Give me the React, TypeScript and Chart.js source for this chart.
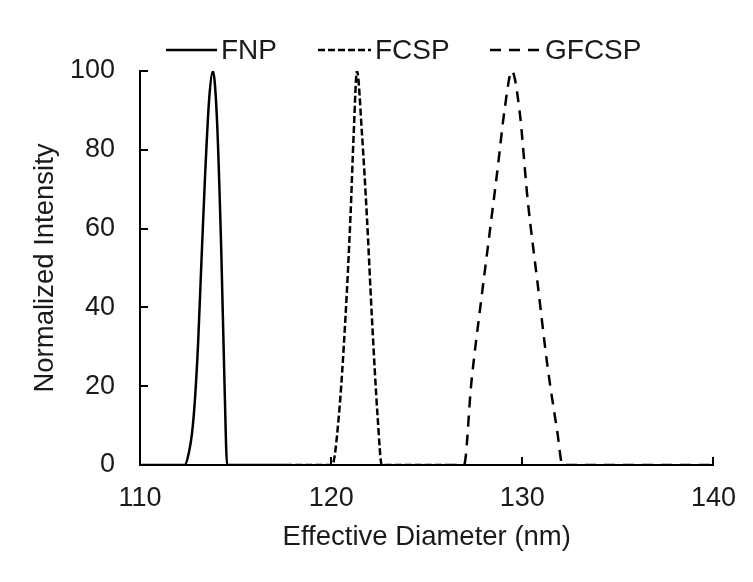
import React, { useEffect, useRef } from "react";
import { Chart, registerables } from "chart.js";

Chart.register(...registerables);

// Effective diameter (nm) and normalized intensity for each sample
const fnpX = [110, 112.34, 112.55, 112.72, 112.88, 113.04, 113.2, 113.4, 113.62, 113.81, 114.02, 114.25, 114.42, 114.56, 117.6];
const fnpY = [0, 0, 3, 8, 17, 31, 50, 73, 93, 100, 88.4, 54.6, 20.8, 0, 0];

const fcspX = [117.6, 120.05, 120.4, 120.75, 121.01, 121.18, 121.35, 121.61, 121.87, 122.13, 122.43, 122.65, 126];
const fcspY = [0, 0, 12.3, 37.6, 63, 84.2, 100, 84.2, 63, 37.6, 12.3, 0, 0];

const gfcspX = [126, 126.95, 127.33, 127.85, 128.29, 128.72, 129.07, 129.45, 129.85, 130.28, 130.8, 131.32, 131.84, 132.1, 140];
const gfcspY = [0, 0, 20.7, 41.9, 58.9, 75.7, 90.1, 100, 90.1, 67.3, 46.1, 25, 8.1, 0, 0];

const seriesNames = ["FNP", "FCSP", "GFCSP"];
const xTickValues = [110, 120, 130, 140];
const yTickValues = [0, 20, 40, 60, 80, 100];

const FONT = "'Liberation Sans', Arial, sans-serif";
const TEXT_COLOR = "#1a1a1a";

const toPoints = (xs: number[], ys: number[]) => xs.map((x, i) => ({ x, y: ys[i] }));

const legendLayout = [
  { x1: 166, x2: 217 },
  { x1: 318, x2: 371 },
  { x1: 490, x2: 541 },
];

const insideTicksPlugin = {
  id: "insideTicks",
  afterDatasetsDraw(chart: any) {
    const { ctx, chartArea, scales } = chart;
    ctx.save();
    ctx.strokeStyle = "#000";
    ctx.lineWidth = 2;
    yTickValues.forEach((v) => {
      const y = Math.round(scales.y.getPixelForValue(v));
      ctx.beginPath();
      ctx.moveTo(chartArea.left, y);
      ctx.lineTo(chartArea.left + 8, y);
      ctx.stroke();
    });
    xTickValues.forEach((v) => {
      const x = Math.round(scales.x.getPixelForValue(v));
      ctx.beginPath();
      ctx.moveTo(x, chartArea.bottom);
      ctx.lineTo(x, chartArea.bottom - 8);
      ctx.stroke();
    });
    ctx.restore();
  },
};

const customLegendPlugin = {
  id: "customLegend",
  afterDraw(chart: any) {
    const { ctx } = chart;
    ctx.save();
    const y = 50;
    chart.data.datasets.forEach((ds: any, i: number) => {
      const pos = legendLayout[i];
      ctx.strokeStyle = ds.borderColor;
      ctx.lineWidth = ds.borderWidth;
      ctx.setLineDash(ds.borderDash || []);
      ctx.beginPath();
      ctx.moveTo(pos.x1, y);
      ctx.lineTo(pos.x2, y);
      ctx.stroke();
      ctx.setLineDash([]);
      ctx.fillStyle = TEXT_COLOR;
      ctx.font = `28px ${FONT}`;
      ctx.textAlign = "left";
      ctx.textBaseline = "middle";
      ctx.fillText(ds.label, pos.x2 + 4, y + 1);
    });
    ctx.restore();
  },
};

export default function App() {
  const canvasRef = useRef<HTMLCanvasElement | null>(null);

  useEffect(() => {
    if (!canvasRef.current) return;
    const chart = new Chart(canvasRef.current, {
      type: "line",
      data: {
        datasets: [
          {
            label: seriesNames[0],
            data: toPoints(fnpX, fnpY),
            borderColor: "#000",
            borderWidth: 2.5,
            pointRadius: 0,
            cubicInterpolationMode: "monotone",
            fill: false,
          },
          {
            label: seriesNames[1],
            data: toPoints(fcspX, fcspY),
            borderColor: "#000",
            borderWidth: 2.5,
            borderDash: [7, 3],
            pointRadius: 0,
            cubicInterpolationMode: "monotone",
            fill: false,
          },
          {
            label: seriesNames[2],
            data: toPoints(gfcspX, gfcspY),
            borderColor: "#000",
            borderWidth: 2.5,
            borderDash: [11, 8],
            pointRadius: 0,
            cubicInterpolationMode: "monotone",
            fill: false,
          },
        ],
      },
      options: {
        animation: false,
        responsive: true,
        maintainAspectRatio: false,
        layout: { padding: { top: 71, right: 36, left: 0, bottom: 0 } },
        plugins: {
          legend: { display: false },
          tooltip: { enabled: false },
        },
        scales: {
          x: {
            type: "linear",
            min: 110,
            max: 140,
            afterFit: (scale: any) => {
              scale.height = 117;
            },
            afterBuildTicks: (scale: any) => {
              scale.ticks = xTickValues.map((v) => ({ value: v }));
            },
            grid: { display: false, drawTicks: false },
            border: { display: true, color: "#000", width: 2 },
            ticks: {
              color: TEXT_COLOR,
              font: { family: FONT, size: 27 },
              padding: 17,
              maxRotation: 0,
            },
            title: {
              display: true,
              text: "Effective Diameter (nm)",
              color: TEXT_COLOR,
              font: { family: FONT, size: 27.5 },
              padding: { top: 0, bottom: 28 },
            },
          },
          y: {
            type: "linear",
            min: 0,
            max: 100,
            afterFit: (scale: any) => {
              scale.width = 140;
            },
            afterBuildTicks: (scale: any) => {
              scale.ticks = yTickValues.map((v) => ({ value: v }));
            },
            grid: { display: false, drawTicks: false },
            border: { display: true, color: "#000", width: 2 },
            ticks: {
              color: TEXT_COLOR,
              font: { family: FONT, size: 27 },
              padding: 25,
            },
            title: {
              display: true,
              text: "Normalized Intensity",
              color: TEXT_COLOR,
              font: { family: FONT, size: 27.5 },
              padding: { top: 29, bottom: 0 },
            },
          },
        },
      },
      plugins: [insideTicksPlugin, customLegendPlugin],
    });
    return () => chart.destroy();
  }, []);

  return (
    <div style={{ position: "absolute", left: 0, top: 0, width: 753, height: 582, background: "#fff" }}>
      <canvas ref={canvasRef} />
    </div>
  );
}
